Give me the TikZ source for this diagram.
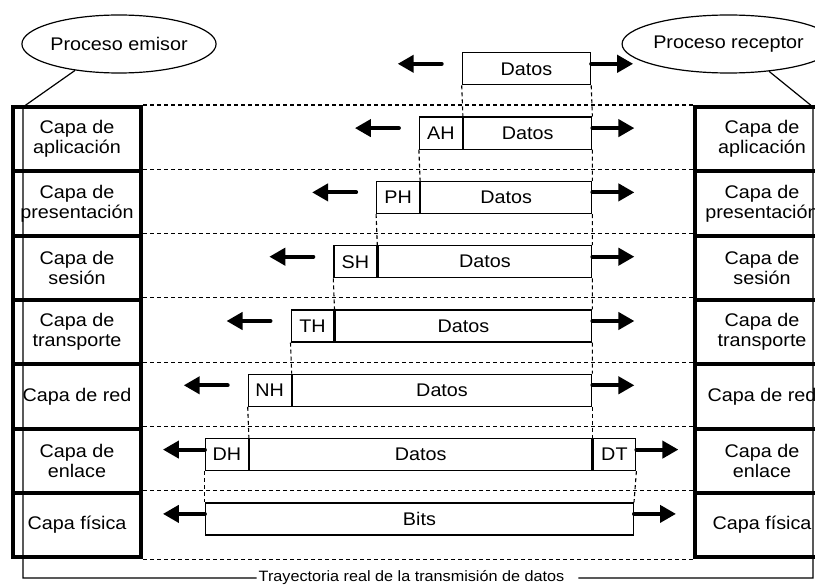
\documentclass[tikz,border=0pt]{standalone}
\usepackage{fontspec}
\setmainfont[FakeStretch=1.08]{Liberation Sans}
\usetikzlibrary{arrows.meta,shapes.geometric}

\begin{document}
\begin{tikzpicture}[x=1pt,y=-1pt,
  txt/.style={font=\fontsize{18.3}{20}\selectfont},
  layer/.style={draw,line width=4pt,minimum width=128pt,minimum height=64.3pt,
    inner sep=0pt,align=center,txt},
  rlayer/.style={layer,minimum width=134pt},
  proc/.style={draw,ellipse,line width=1.2pt,minimum width=172pt,minimum height=58pt,
    inner sep=0pt,txt},
  cell/.style={draw,line width=1.2pt,minimum height=32pt,inner sep=0pt,anchor=north west,txt},
  hdr/.style={cell,minimum width=42.8pt},
  sep/.style={line width=1.1pt,dash pattern=on 4pt off 3pt},
  flow/.style={line width=4pt,line cap=round,-{Triangle[length=16pt,width=17pt]}},
  path/.style={line width=1.2pt}
]
\useasboundingbox (0,0) rectangle (815,586);
\clip (0,0) rectangle (815,586);
\fill[white] (0,0) rectangle (815,586);

% process ellipses
\node[proc] (emisor) at (119,44) {Proceso emisor};
\node[proc,minimum width=167pt] (receptor) at (728.5,44) {Proceso receptor};

% sending and receiving layer stacks
\node[layer] (L1) at (77,139.15) {Capa de\\aplicación};
\node[layer] (L2) at (77,203.45) {Capa de\\presentación};
\node[layer] (L3) at (77,267.75) {Capa de\\sesión};
\node[layer] (L4) at (77,332.05) {Capa de\\transporte};
\node[layer] (L5) at (77,396.35) {Capa de red};
\node[layer] (L6) at (77,460.65) {Capa de\\enlace};
\node[layer] (L7) at (77,524.95) {Capa física};

\node[rlayer] (R1) at (762,139.15) {Capa de\\aplicación};
\node[rlayer] (R2) at (762,203.45) {Capa de\\presentación};
\node[rlayer] (R3) at (762,267.75) {Capa de\\sesión};
\node[rlayer] (R4) at (762,332.05) {Capa de\\transporte};
\node[rlayer] (R5) at (762,396.35) {Capa de red};
\node[rlayer] (R6) at (762,460.65) {Capa de\\enlace};
\node[rlayer] (R7) at (762,524.95) {Capa física};

% layer boundaries
\foreach \i in {1,...,7} {
  \draw[sep] (L\i.north east) -- (R\i.north west);
}
\draw[sep] (L7.south east) -- (R7.south west);

% user data
\node[cell,minimum width=128.3pt] (d0) at (461.7,52.2) {Datos};

% headers added by each upper layer
\foreach \k/\hd in {1/AH,2/PH,3/SH,4/TH,5/NH} {
  \pgfmathsetmacro\xl{461.7-42.8*\k}
  \pgfmathsetmacro\yt{52.2+64.3*\k}
  \pgfmathsetmacro\dw{590-\xl-42.8}
  \node[hdr] (h\k) at (\xl,\yt) {\hd};
  \node[cell,minimum width=\dw pt] (d\k) at (h\k.north east) {Datos};
}

% data link frame and physical bits
\node[hdr] (h6) at (204.9,438.0) {DH};
\node[cell,minimum width=342.3pt] (d6) at (h6.north east) {Datos};
\node[hdr] (t6) at (d6.north east) {DT};
\node[cell,minimum width=427.9pt] (b7) at (204.9,502.3) {Bits};

% dashed edges carried down between layers
\draw[sep] (d0.south west) -- (d1.north west);
\draw[sep] (h1.south west) -- (d2.north west);
\draw[sep] (h2.south west) -- (d3.north west);
\draw[sep] (h3.south west) -- (d4.north west);
\draw[sep] (h4.south west) -- (d5.north west);
\draw[sep] (h5.south west) -- (d6.north west);
\draw[sep] (h6.south west) -- (b7.north west);
\foreach \a/\b in {0/1,1/2,2/3,3/4,4/5} {
  \draw[sep] (d\a.south east) -- (d\b.north east);
}
\draw[sep] (d5.south east) -- (t6.north west);
\draw[sep] (t6.south east) -- (b7.north east);

% direction arrows
\draw[flow] ([shift={(-20,-5)}]d0.west) -- ++(-44,0);
\foreach \k in {1,...,5} {
  \draw[flow] ([shift={(-20,-5)}]h\k.west) -- ++(-44,0);
}
\draw[flow] ([shift={(0,-5)}]h6.west) -- ++(-42,0);
\draw[flow] ([shift={(0,-5)}]b7.west) -- ++(-42,0);
\foreach \k in {0,...,5} {
  \draw[flow] ([shift={(0,-5)}]d\k.east) -- ++(42,0);
}
\draw[flow] ([shift={(0,-5)}]t6.east) -- ++(42,0);
\draw[flow] ([shift={(0,-5)}]b7.east) -- ++(42,0);

% real transmission path
\coordinate (tl) at (23,107);
\coordinate (bl) at (23,578);
\coordinate (br) at (813,578);
\coordinate (tr) at (813,107);
\node[font=\fontsize{15}{16}\selectfont,inner sep=0pt] (via) at (411.5,578)
  {Trayectoria real de la transmisión de datos};
\draw[path] (emisor.-149) -- (tl) -- (bl) -- ([xshift=-2pt]via.west);
\draw[path] ([xshift=14pt]via.east) -- (br) -- (tr) -- (receptor.-34);
\end{tikzpicture}
\end{document}
